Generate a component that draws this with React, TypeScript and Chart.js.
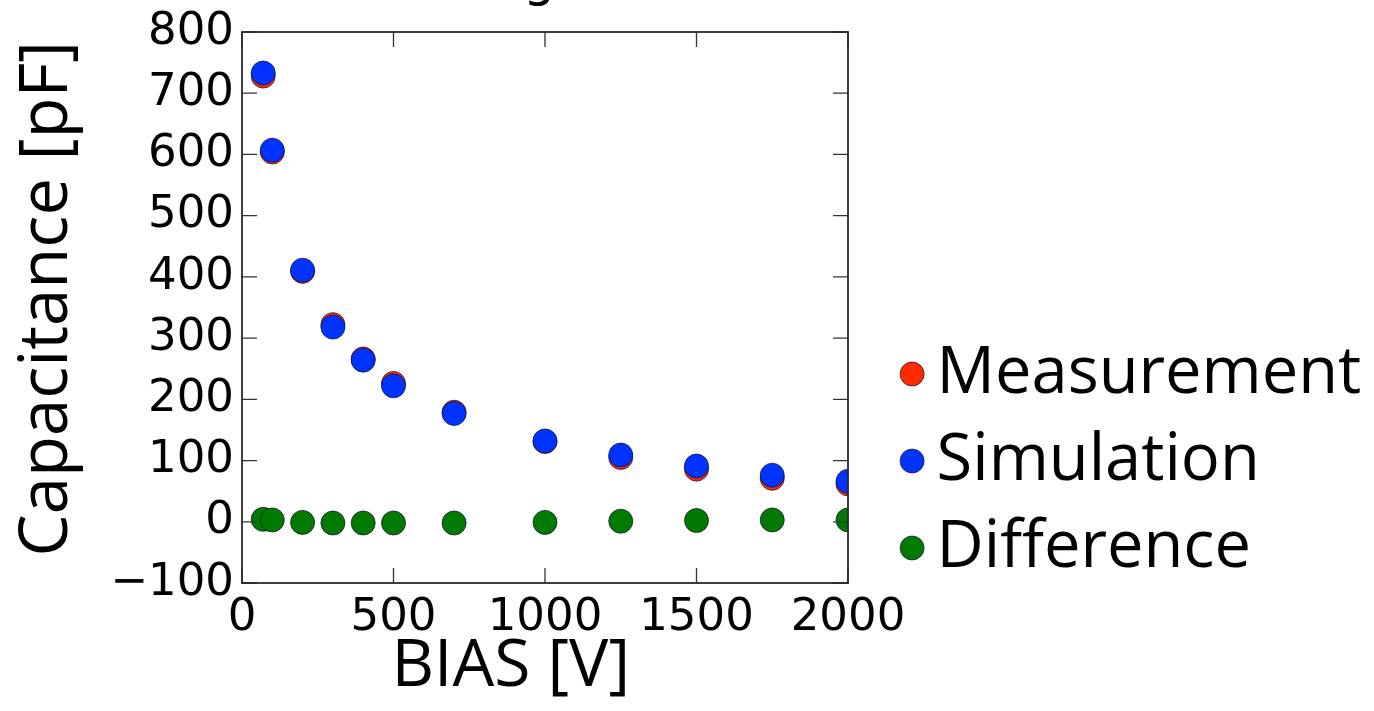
import React, { useEffect, useRef } from 'react';
import { Chart, registerables } from 'chart.js';

Chart.register(...registerables);

// ---- data ----
const biasV = [70, 100, 200, 300, 400, 500, 700, 1000, 1250, 1500, 1750, 2000];
const measurementPF = [728, 604, 409, 322, 266, 226, 179, 131, 105, 86, 71, 62];
const simulationPF = [733, 607, 411, 318, 264, 222, 177, 132, 109, 91, 76, 66];
const differencePF = [4, 3, -1, -2, -2, -2, -2, -1, 1, 2, 3, 3];
const seriesNames = ['Measurement', 'Simulation', 'Difference'];
const seriesColors = ['#ff2a00', '#0033ff', '#007a00'];
const xTickValues = [0, 500, 1000, 1500, 2000];
const yTickValues = [-100, 0, 100, 200, 300, 400, 500, 600, 700, 800];
const titleText = 'Degree';
const xTitle = 'BIAS [V]';
const yTitle = 'Capacitance [pF]';

const EDGE = 'rgba(20,20,50,0.75)';
const TICK_FONT = 'DejaVu Sans';
const LABEL_FONT = 'Open Sans';
const LEGEND_SIZE = 65;

function makeDot(color: string): HTMLCanvasElement {
  const r = 12;
  const d = 9;
  const c = document.createElement('canvas');
  c.width = 2 * (r + d + 2);
  c.height = 2 * (r + 2);
  const g = c.getContext('2d')!;
  g.beginPath();
  g.arc(c.width / 2 + d, c.height / 2, r, 0, Math.PI * 2);
  g.fillStyle = color;
  g.fill();
  g.lineWidth = 1;
  g.strokeStyle = EDGE;
  g.stroke();
  return c;
}

const frameTicks = {
  id: 'frameTicks',
  afterDatasetsDraw(chart: any) {
    const { ctx, chartArea } = chart;
    const { left, right, top, bottom } = chartArea;
    const xs = chart.scales.x;
    const ys = chart.scales.y;
    const len = 15;
    ctx.save();
    ctx.strokeStyle = '#333';
    ctx.lineWidth = 1.3;
    ctx.beginPath();
    for (const t of xs.ticks) {
      const px = xs.getPixelForValue(t.value);
      ctx.moveTo(px, bottom);
      ctx.lineTo(px, bottom - len);
      ctx.moveTo(px, top);
      ctx.lineTo(px, top + len);
    }
    for (const t of ys.ticks) {
      const py = ys.getPixelForValue(t.value);
      ctx.moveTo(left, py);
      ctx.lineTo(left + len, py);
      ctx.moveTo(right, py);
      ctx.lineTo(right - len, py);
    }
    ctx.stroke();
    ctx.lineWidth = 1.8;
    ctx.strokeStyle = '#2a2a2a';
    ctx.strokeRect(left, top, right - left, bottom - top);
    ctx.restore();
  },
};

export default function App() {
  const ref = useRef<HTMLCanvasElement | null>(null);

  useEffect(() => {
    if (!ref.current) return;
    const W = 1374;
    const plotLeft = 242;
    const plotRight = 848;
    const legendBoxLeft = 880.1;
    const legendPad = 22;
    const boxW = 2;

    const mc = document.createElement('canvas').getContext('2d')!;
    mc.font = `${LEGEND_SIZE}px ${LABEL_FONT}`;
    const textW = mc.measureText(seriesNames[0]).width;
    const legendW = 10 + legendPad + boxW + LEGEND_SIZE / 2 + textW;
    const padRight = Math.max(0, W - legendBoxLeft - legendW);
    const spacerW = W - padRight - legendW - plotRight;

    const dots = seriesColors.map(makeDot);
    const seriesValues = [measurementPF, simulationPF, differencePF];

    const chart = new Chart(ref.current, {
      type: 'scatter',
      data: {
        datasets: seriesNames.map((name, i) => ({
          label: name,
          data: biasV.map((x, k) => ({ x, y: seriesValues[i][k] })),
          backgroundColor: seriesColors[i],
          borderColor: EDGE,
          pointRadius: 12,
          pointHoverRadius: 12,
          pointBorderWidth: 1,
          order: 3 - i,
          clip: 0,
        })),
      },
      options: {
        responsive: false,
        animation: false,
        events: [],
        layout: { padding: { left: 0, top: 0, bottom: 0, right: padRight } },
        scales: {
          x: {
            type: 'linear',
            position: 'bottom',
            min: 0,
            max: 2000,
            afterBuildTicks: (s: any) => {
              s.ticks = xTickValues.map((v) => ({ value: v }));
            },
            afterFit: (s: any) => {
              s.height = 128;
            },
            grid: { display: false, drawTicks: false },
            border: { display: false },
            ticks: {
              color: '#000',
              padding: 8,
              maxRotation: 0,
              font: { family: TICK_FONT, size: 45 },
              callback: (v: any) => (Number(v) < 0 ? '\u2212' + Math.abs(Number(v)) : String(v)),
            },
            title: {
              display: true,
              text: xTitle + '    ',
              color: '#000',
              font: { family: LABEL_FONT, size: 66, lineHeight: 1.2 },
              padding: { top: 0, bottom: 4 },
            },
          },
          y: {
            type: 'linear',
            position: 'left',
            min: -100,
            max: 800,
            afterBuildTicks: (s: any) => {
              s.ticks = yTickValues.map((v) => ({ value: v }));
            },
            afterFit: (s: any) => {
              s.width = plotLeft;
            },
            grid: { display: false, drawTicks: false },
            border: { display: false },
            ticks: {
              color: '#000',
              padding: 8,
              font: { family: TICK_FONT, size: 45 },
              callback: (v: any) => (Number(v) < 0 ? '\u2212' + Math.abs(Number(v)) : String(v)),
            },
            title: {
              display: true,
              text: ' ' + yTitle,
              color: '#000',
              font: { family: LABEL_FONT, size: 67, lineHeight: 1.2 },
              padding: { top: 8, bottom: 0 },
            },
          },
          y2: {
            type: 'linear',
            position: 'right',
            display: true,
            grid: { display: false, drawTicks: false },
            border: { display: false },
            ticks: { display: false },
            afterFit: (s: any) => {
              s.width = spacerW;
            },
          },
        },
        plugins: {
          tooltip: { enabled: false },
          title: {
            display: true,
            text: titleText,
            color: '#000',
            fullSize: false,
            font: { family: TICK_FONT, size: 50, weight: 'normal', lineHeight: 1.2 },
            padding: { top: 13, bottom: 19 },
          },
          legend: {
            display: true,
            position: 'right',
            align: 'start',
            fullSize: true,
            maxWidth: 900,
            title: {
              display: true,
              text: ' ',
              font: { size: 10, lineHeight: 1 },
              padding: { top: 369.5, bottom: 0 },
            },
            labels: {
              usePointStyle: true,
              boxWidth: boxW,
              boxHeight: boxW,
              padding: legendPad,
              color: '#000',
              textAlign: 'left',
              font: { family: LABEL_FONT, size: LEGEND_SIZE },
              sort: (a: any, b: any) => a.datasetIndex - b.datasetIndex,
              generateLabels: (c: any) => {
                const items = (Chart.defaults as any).plugins.legend.labels.generateLabels(c);
                return items.map((it: any) => ({ ...it, pointStyle: dots[it.datasetIndex] }));
              },
            },
          },
        },
      } as any,
      plugins: [frameTicks],
    });
    return () => chart.destroy();
  }, []);

  return (
    <div style={{ position: 'absolute', left: 0, top: -60, width: 1374, height: 771 }}>
      <canvas ref={ref} width={1374} height={771} style={{ display: 'block' }} />
    </div>
  );
}
